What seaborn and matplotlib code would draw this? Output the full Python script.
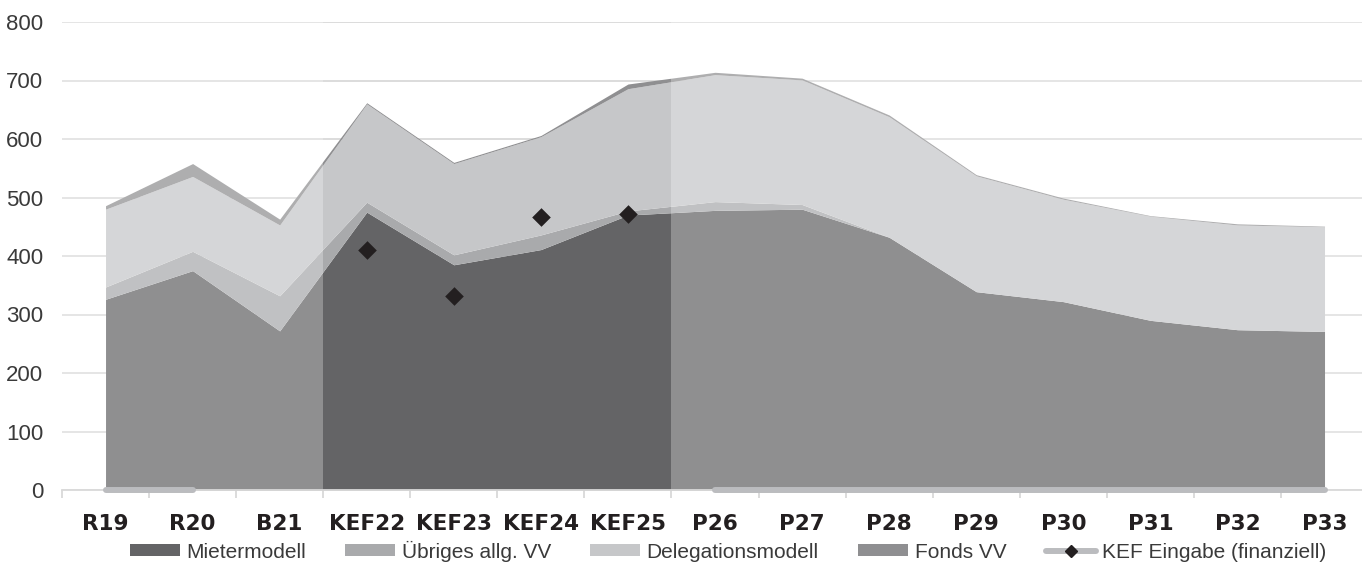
import numpy as np
import pandas as pd
import matplotlib
matplotlib.use("Agg")
import matplotlib.pyplot as plt
from matplotlib.patches import Patch
from matplotlib.lines import Line2D
import seaborn as sns

# --- data -------------------------------------------------------------
categories = ["R19", "R20", "B21", "KEF22", "KEF23", "KEF24", "KEF25",
              "P26", "P27", "P28", "P29", "P30", "P31", "P32", "P33"]

mietermodell = [326, 375, 272, 475, 385, 411, 470, 478, 480, 432, 339, 322, 290, 274, 271]
uebriges_vv = [21, 33, 60, 17, 17, 25, 7, 15, 8, 0, 0, 0, 0, 0, 0]
delegationsmodell = [133, 128, 121, 168, 156, 168, 209, 217, 213, 206, 198, 175, 178, 179, 179]
fonds_vv = [6, 22, 10, 2, 2, 2, 8, 4, 3, 3, 2, 2, 1, 2, 1]
kef_eingabe = [0, 0, np.nan, 410, 331, 466, 471, 0, 0, 0, 0, 0, 0, 0, 0]

series_names = ["Mietermodell", "Übriges allg. VV", "Delegationsmodell", "Fonds VV"]
series_colors = ["#646466", "#a9aaac", "#c6c7c9", "#8f8f91"]
kef_name = "KEF Eingabe (finanziell)"

# KEF planning window that stays un-faded
highlight_start, highlight_end = "KEF22", "KEF25"

# --- styling ----------------------------------------------------------
sns.set_theme(style="white")
plt.rcParams["font.family"] = ["Liberation Sans", "DejaVu Sans"]

W, H = 1362, 569
fig = plt.figure(figsize=(W / 100, H / 100), dpi=100)
step = 87.07
ax = fig.add_axes([62 / W, (H - 490) / H, 15 * step / W, 468 / H])

x = np.arange(len(categories))
df = pd.DataFrame({"cat": categories, "x": x, "kef": kef_eingabe})

ax.stackplot(x, mietermodell, uebriges_vv, delegationsmodell, fonds_vv,
             colors=series_colors, linewidth=0, zorder=2)

# fade everything outside the KEF window
i0 = categories.index(highlight_start) - 0.5
i1 = categories.index(highlight_end) + 0.5
ax.axvspan(-0.5, i0, color="white", alpha=0.28, lw=0, zorder=3)
ax.axvspan(i1, len(categories) - 0.5, color="white", alpha=0.28, lw=0, zorder=3)

# KEF input: zero baseline where no value was submitted, diamonds otherwise
kef = np.array(kef_eingabe, dtype=float)
kef_zero = np.where(kef == 0, kef, np.nan)
ax.plot(x, kef_zero, color="#bbbcbf", lw=4.3, solid_capstyle="round", zorder=5, clip_on=False)
sns.scatterplot(data=df[df["kef"] > 0], x="x", y="kef", marker="D", s=90,
                color="#231f20", linewidth=0, ax=ax, zorder=6, legend=False)

# --- axes -------------------------------------------------------------
ax.set_xlim(-0.5, len(categories) - 0.5)
ax.set_ylim(0, 800)
ax.set_yticks(np.arange(0, 801, 100))
ax.yaxis.grid(True, color="#d9d9d9", lw=1.3, zorder=0.5)
ax.xaxis.grid(False)
ax.set_axisbelow(True)
for s in ["top", "right", "left"]:
    ax.spines[s].set_visible(False)
ax.spines["bottom"].set_color("#d9d9d9")
ax.spines["bottom"].set_linewidth(1.3)
ax.spines["bottom"].set_zorder(4)

ax.set_xticks(x)
ax.set_xticklabels(categories)
ax.set_xticks(np.arange(-0.5, len(categories)), minor=True)
ax.tick_params(axis="x", which="major", length=0, pad=17, labelsize=15.5, labelcolor="#231f20")
ax.tick_params(axis="x", which="minor", length=5.5, width=1.3, color="#d9d9d9", bottom=True)
for lab in ax.get_xticklabels():
    lab.set_fontfamily(["DejaVu Sans"])
    lab.set_fontweight("bold")
ax.tick_params(axis="y", length=0, pad=13.5, labelsize=16, labelcolor="#3a3a3a")
ax.set_xlabel("")
ax.set_ylabel("")

# --- legend -----------------------------------------------------------
handles = [Patch(facecolor=c, edgecolor="none") for c in series_colors]
handles.append(Line2D([], [], color="#bbbcbf", lw=4.3, marker="D", markersize=6,
                      markerfacecolor="#231f20", markeredgecolor="#231f20"))
labels = series_names + [kef_name]
fig.legend(handles, labels, loc="center", bbox_to_anchor=(728 / W, 1 - 551 / H),
           ncol=5, frameon=False, fontsize=15, handlelength=2.4, handleheight=0.5,
           handletextpad=0.3, columnspacing=1.9, labelcolor="#3a3a3a")

fig.savefig("out.png", dpi=100)
